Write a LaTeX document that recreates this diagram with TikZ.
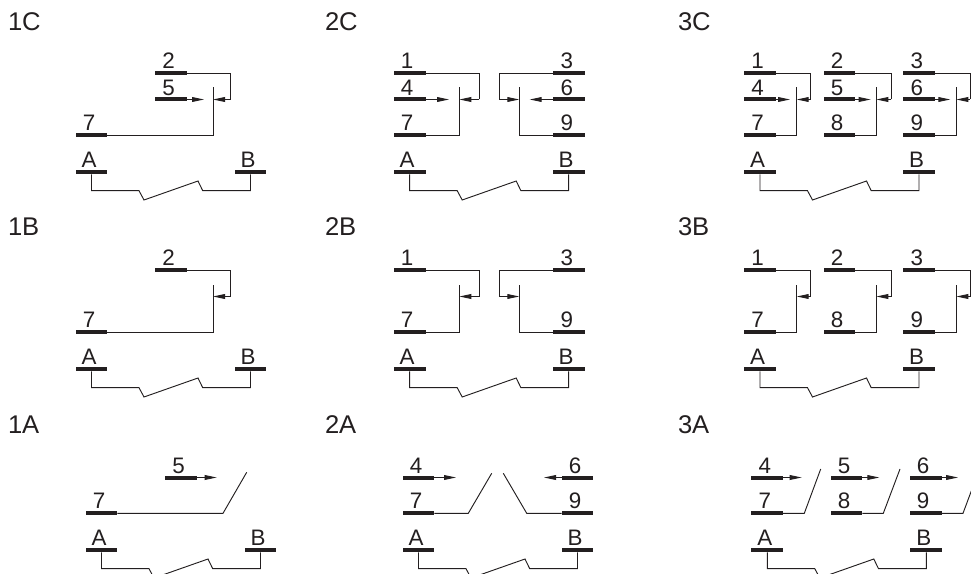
\documentclass[tikz,border=0pt]{standalone}
\usepackage{fontspec}
\setmainfont{Liberation Sans}
\usetikzlibrary{arrows.meta}
\definecolor{ink}{HTML}{231F20}
\tikzset{
  termbar/.style={fill=ink,draw=none,inner sep=0pt,outer sep=0pt,minimum width=23.8pt,minimum height=3pt},
  termlab/.style={anchor=base,inner sep=0pt,outer sep=0pt,text=ink,font=\fontsize{16.8pt}{17pt}\selectfont},
  panellab/.style={anchor=base west,inner sep=0pt,outer sep=0pt,text=ink,font=\fontsize{19.2pt}{20pt}\selectfont},
  wire/.style={draw=ink,line width=0.7pt,line join=miter},
  flow/.style={wire,-{Triangle[length=9pt,width=3.6pt]}}
}
% terminal: name, label, x, y
\newcommand\myterm[4]{%
  \node[termbar] (#1) at (#3,#4) {};
  \node[termlab] (#1l) at (#3-2.5,#4-4.4) {#2};}
% top terminal with return to contact: name,label,xbar,side,xcontact,xreturn
\newcommand\mytop[6]{%
  \myterm{#1}{#2}{#3}{73}
  \coordinate (#1r) at (#6,99.5);
  \coordinate (#1c) at (#5,99.5);
  \draw[wire] (#1.#4) -| (#1r);
  \draw[flow] (#1r) -- (#1c);}
% middle terminal with free arrow: name,label,xbar,side,xtip
\newcommand\mymid[5]{%
  \myterm{#1}{#2}{#3}{99.5}
  \coordinate (#1c) at (#5,99.5);
  \draw[flow] (#1.#4) -- (#1c);}
% lower terminal with upright contact: name,label,xbar,side,xcontact
\newcommand\mylow[5]{%
  \myterm{#1}{#2}{#3}{135.3}
  \coordinate (#1t) at (#5,87.5);
  \draw[wire] (#1.#4) -| (#1t);}
% lower terminal with open contact: name,label,xbar,side,xknee,xend,yend
\newcommand\myopen[7]{%
  \myterm{#1}{#2}{#3}{135.3}
  \coordinate (#1k) at (#5,135.3);
  \coordinate (#1t) at (#6,#7);
  \draw[wire] (#1.#4) -- (#1k) -- (#1t);}
% coil: prefix, xA
\newcommand\mycoil[2]{%
  \myterm{#1A}{A}{#2}{172.3}
  \myterm{#1B}{B}{#2+159}{172.3}
  \coordinate (#1z1) at (#2+47.5,190.7);
  \coordinate (#1z2) at (#2+52.5,200);
  \coordinate (#1z3) at (#2+106.5,181);
  \coordinate (#1z4) at (#2+111.2,190.7);
  \draw[wire] (#1A.south) |- (#1z1) -- (#1z2) -- (#1z3) -- (#1z4) -| (#1B.south);}
\begin{document}
\begin{tikzpicture}[x=0.75pt,y=-0.75pt]
\clip (0,0) rectangle (971,574);
\fill[white] (0,0) rectangle (971,574);
% panel titles
\node[panellab] (t1C) at (8,31) {1C};
\node[panellab] (t2C) at (325,31) {2C};
\node[panellab] (t3C) at (678,31) {3C};
\node[panellab] (t1B) at (8,235.5) {1B};
\node[panellab] (t2B) at (325,235.5) {2B};
\node[panellab] (t3B) at (678,235.5) {3B};
\node[panellab] (t1A) at (8,433.5) {1A};
\node[panellab] (t2A) at (325,433.5) {2A};
\node[panellab] (t3A) at (678,433.5) {3A};
% 1C
\mytop{ca2}{2}{171}{east}{213}{230.5}
\mymid{ca5}{5}{171}{east}{204}
\mylow{ca7}{7}{91.5}{east}{213}
\mycoil{ca}{91.5}
% 2C
\mytop{cb1}{1}{409.7}{east}{459.3}{479.3}
\mymid{cb4}{4}{409.7}{east}{449}
\mylow{cb7}{7}{409.7}{east}{459.3}
\mytop{cb3}{3}{569.3}{west}{519.3}{499.3}
\mymid{cb6}{6}{569.3}{west}{529.7}
\mylow{cb9}{9}{569.3}{west}{519.3}
\mycoil{cb}{409.7}
% 3C
\mytop{cc1}{1}{760}{east}{796.7}{810.7}
\mymid{cc4}{4}{760}{east}{790}
\mylow{cc7}{7}{760}{east}{796.7}
\mytop{cc2}{2}{839.5}{east}{876.3}{891.3}
\mymid{cc5}{5}{839.5}{east}{870.7}
\mylow{cc8}{8}{839.5}{east}{876.3}
\mytop{cc3}{3}{919.3}{east}{956.3}{970}
\mymid{cc6}{6}{919.3}{east}{950.3}
\mylow{cc9}{9}{919.3}{east}{956.3}
\mycoil{cc}{760}
% row B
\begin{scope}[shift={(0,197)}]
\mytop{ba2}{2}{171}{east}{213}{230.5}
\mylow{ba7}{7}{91.5}{east}{213}
\mycoil{ba}{91.5}
\mytop{bb1}{1}{409.7}{east}{459.3}{479.3}
\mylow{bb7}{7}{409.7}{east}{459.3}
\mytop{bb3}{3}{569.3}{west}{519.3}{499.3}
\mylow{bb9}{9}{569.3}{west}{519.3}
\mycoil{bb}{409.7}
\mytop{bc1}{1}{760}{east}{796.7}{810.7}
\mylow{bc7}{7}{760}{east}{796.7}
\mytop{bc2}{2}{839.5}{east}{876.3}{891.3}
\mylow{bc8}{8}{839.5}{east}{876.3}
\mytop{bc3}{3}{919.3}{east}{956.3}{970}
\mylow{bc9}{9}{919.3}{east}{956.3}
\mycoil{bc}{760}
\end{scope}
% row A
\begin{scope}[shift={(0,378)}]
\mymid{aa5}{5}{181}{east}{216.7}
\myopen{aa7}{7}{101.5}{east}{223}{246.7}{94.3}
\mycoil{aa}{101.5}
\mymid{ab4}{4}{418.5}{east}{456}
\myopen{ab7}{7}{418.5}{east}{468.3}{491.7}{95.3}
\mymid{ab6}{6}{577.5}{west}{544}
\myopen{ab9}{9}{577.5}{west}{526.7}{503.3}{95.3}
\mycoil{ab}{418.5}
\mymid{ac4}{4}{767.3}{east}{801.7}
\myopen{ac7}{7}{767.3}{east}{804.3}{820.7}{91}
\mymid{ac5}{5}{846.5}{east}{879.3}
\myopen{ac8}{8}{846.5}{east}{883.3}{900}{91}
\mymid{ac6}{6}{925.7}{east}{958}
\myopen{ac9}{9}{925.7}{east}{963}{979.5}{91}
\mycoil{ac}{767.3}
\end{scope}
\end{tikzpicture}
\end{document}
